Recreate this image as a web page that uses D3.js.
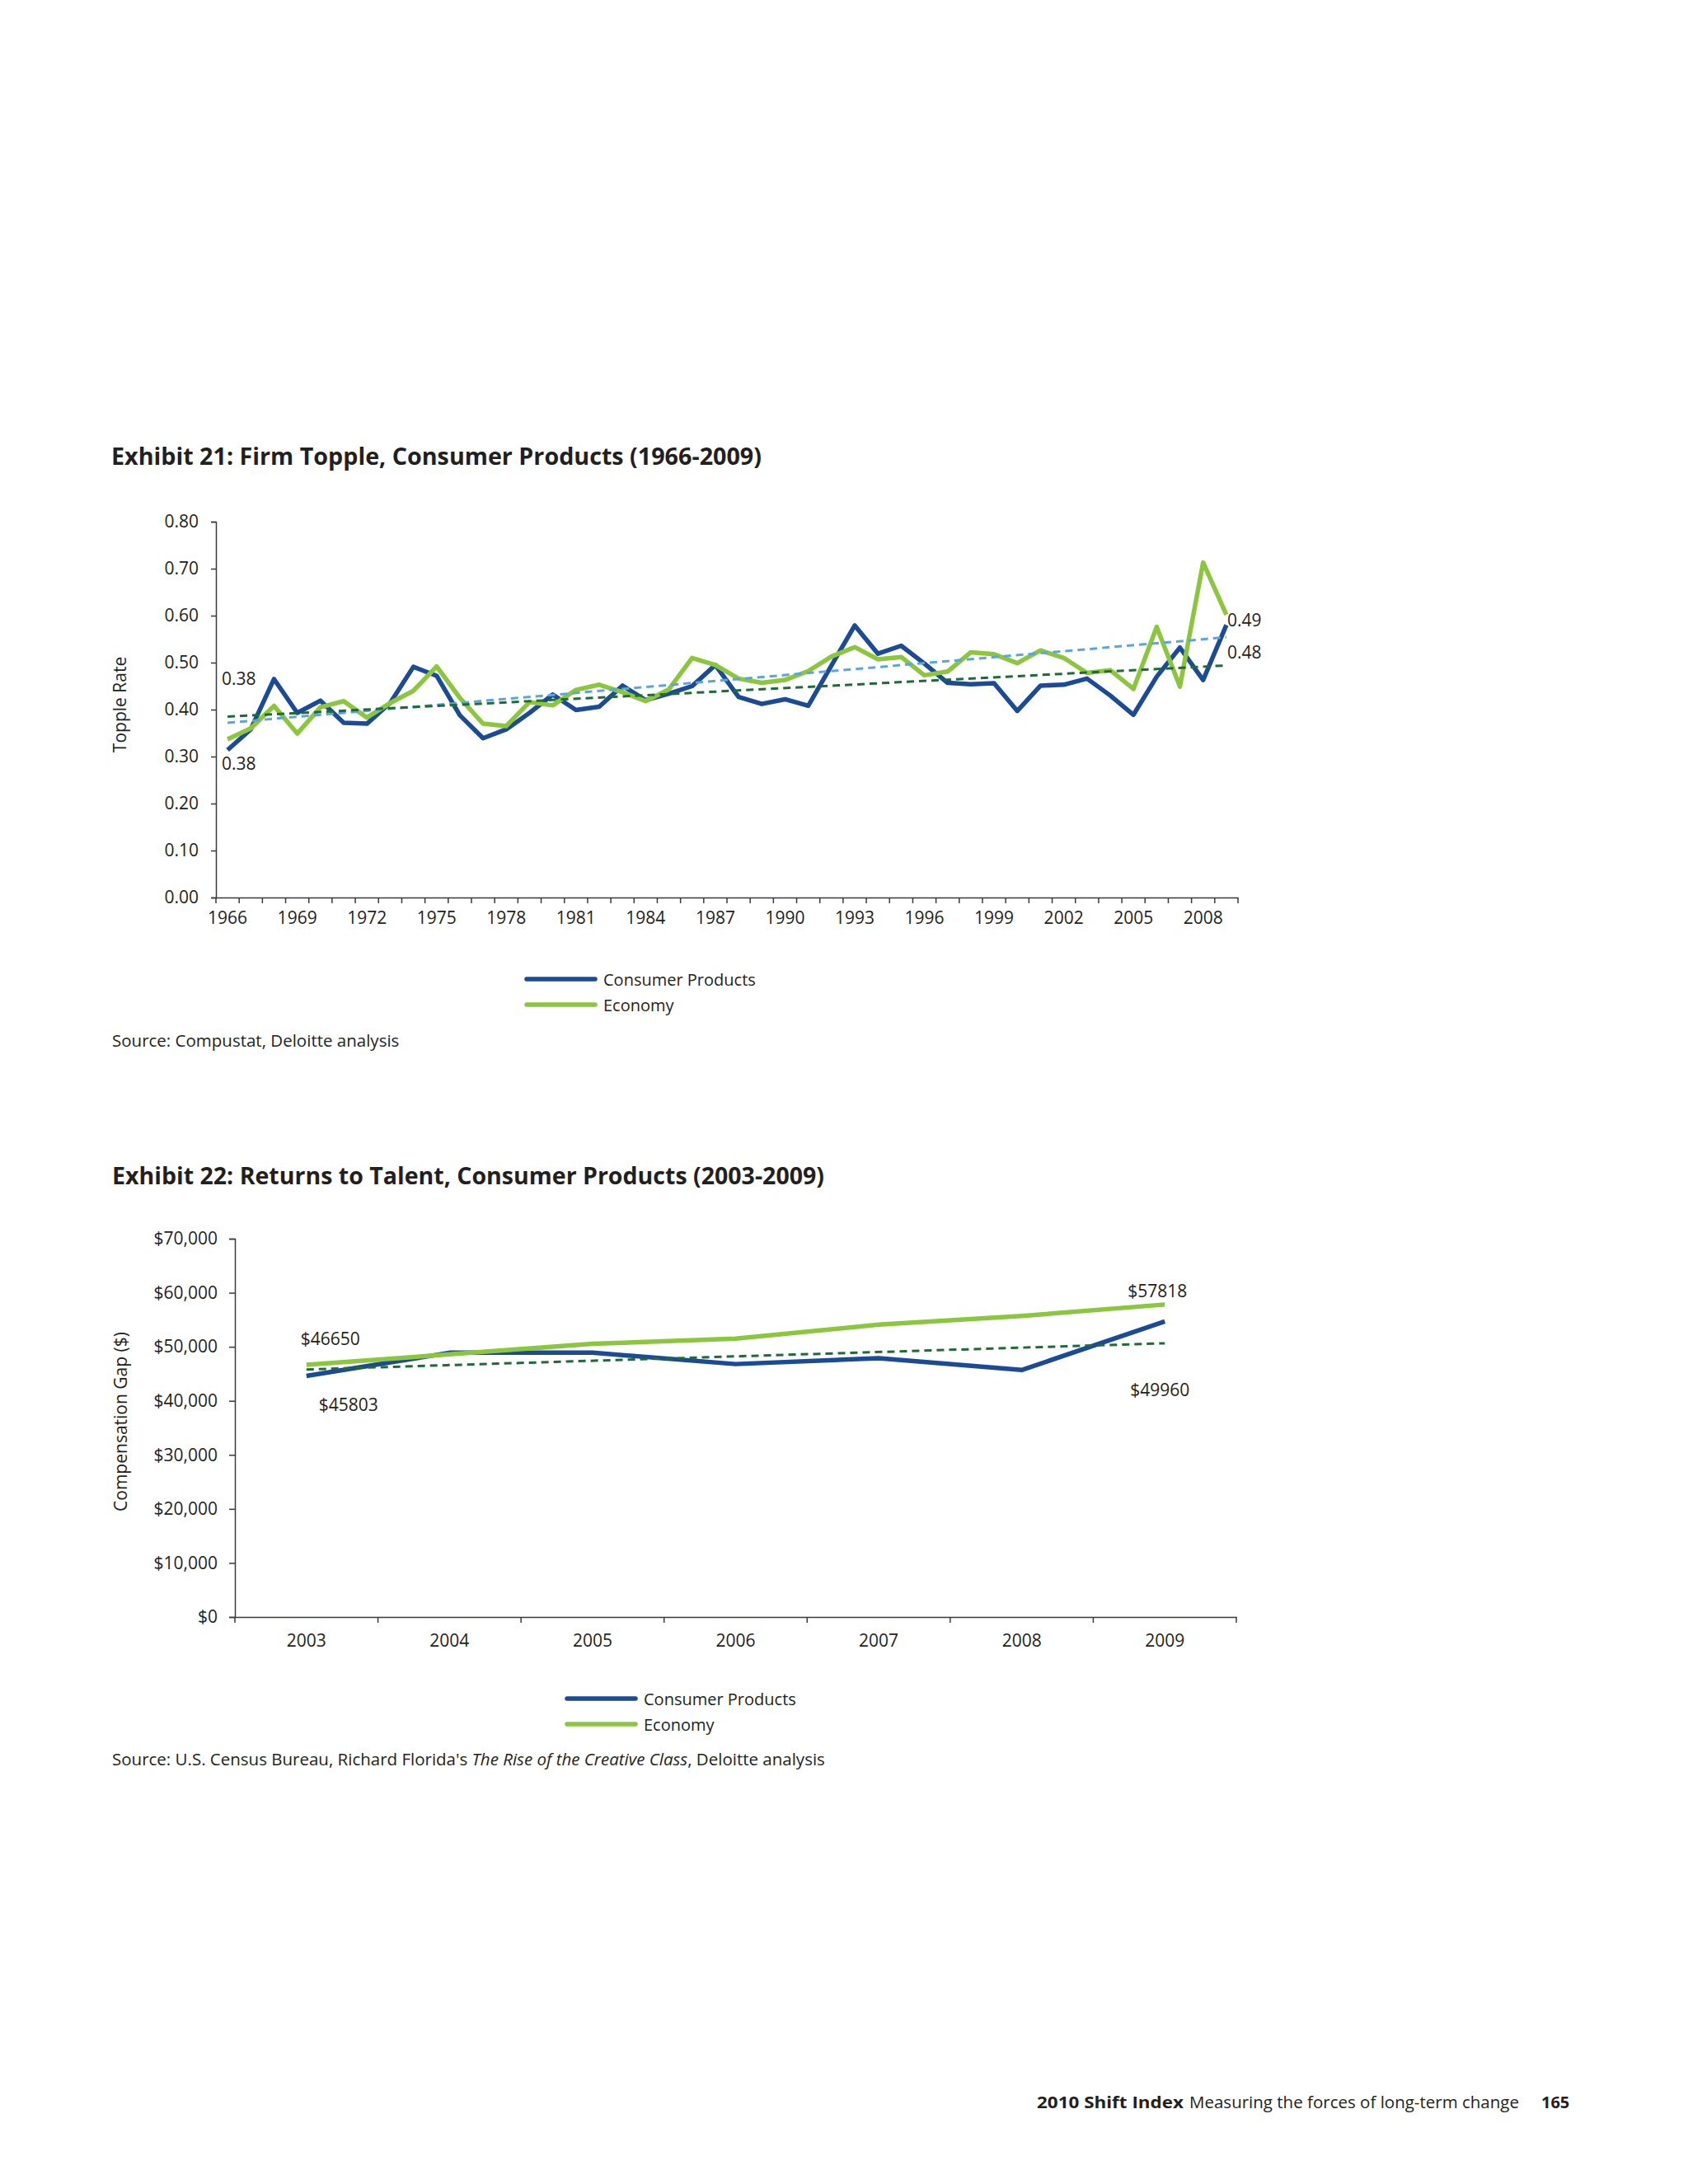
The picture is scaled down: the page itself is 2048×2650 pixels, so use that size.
<!DOCTYPE html>
<html><head><meta charset="utf-8">
<script src="https://cdn.jsdelivr.net/npm/d3@7"></script>
<style>
body{margin:0;background:#fff}
svg{display:block}
text{font-family:"Open Sans",sans-serif;fill:#231f20}
</style>
</head><body>
<svg id="c" width="2048" height="2650"></svg>
<script>
// ---------------- DATA: Exhibit 21 ----------------
const years1 = [1966,1967,1968,1969,1970,1971,1972,1973,1974,1975,1976,1977,1978,1979,1980,1981,1982,1983,1984,1985,1986,1987,1988,1989,1990,1991,1992,1993,1994,1995,1996,1997,1998,1999,2000,2001,2002,2003,2004,2005,2006,2007,2008,2009];
const consumerTopple = [0.314,0.358,0.465,0.393,0.419,0.372,0.370,0.414,0.491,0.472,0.388,0.339,0.358,0.393,0.432,0.399,0.406,0.451,0.420,0.434,0.450,0.495,0.427,0.412,0.422,0.408,0.494,0.579,0.519,0.536,0.498,0.457,0.454,0.456,0.397,0.451,0.453,0.466,0.430,0.389,0.470,0.532,0.463,0.580];
const economyTopple = [0.337,0.360,0.408,0.349,0.405,0.418,0.383,0.414,0.440,0.492,0.425,0.370,0.365,0.416,0.409,0.442,0.453,0.437,0.418,0.443,0.510,0.495,0.466,0.457,0.463,0.482,0.513,0.533,0.507,0.512,0.473,0.481,0.522,0.518,0.499,0.526,0.510,0.478,0.484,0.444,0.576,0.449,0.713,0.602];
const trendTopple1 = [0.372, 0.554];   // first / last year
const trendTopple2 = [0.385, 0.494];
const toppleTicks = [0,0.1,0.2,0.3,0.4,0.5,0.6,0.7,0.8];
const toppleLabelYears = [1966,1969,1972,1975,1978,1981,1984,1987,1990,1993,1996,1999,2002,2005,2008];
const toppleNotes = [
  {text:"0.38", year:1966, v:0.467},
  {text:"0.38", year:1966, v:0.286},
  {text:"0.49", year:2009, v:0.592},
  {text:"0.48", year:2009, v:0.522}
];

// ---------------- DATA: Exhibit 22 ----------------
const years2 = [2003,2004,2005,2006,2007,2008,2009];
const consumerGap = [44600,48900,48900,46800,47900,45700,54700];
const economyGap = [46650,48600,50550,51500,54100,55700,57818];
const trendGap = [45803, 50650];
const gapTicks = [0,10000,20000,30000,40000,50000,60000,70000];
const gapNotes = [
  {text:"$46650", year:2003, v:51600, dx:-7},
  {text:"$45803", year:2003, v:39400, dx:15},
  {text:"$57818", year:2009, v:60460, dx:-45},
  {text:"$49960", year:2009, v:42140, dx:-42}
];

const seriesNames = ["Consumer Products","Economy"];

// ---------------- STYLE ----------------
const BLUE="#1a4b94", GREEN="#8cc63f", LBLUE="#5aa6dc", DGREEN="#1f6b36", AXIS="#3a3a3a";
const FS=21;

const svg = d3.select("#c");

function styleAxis(g){
  g.attr("font-family",'"Open Sans",sans-serif').attr("font-size",FS);
  g.selectAll("path,line").attr("stroke",AXIS).attr("stroke-width",1.5);
  g.selectAll("text").attr("fill","#231f20");
}

// ============ Exhibit 21 ============
svg.append("text").attr("x",135).attr("y",564).attr("font-size",29).attr("font-weight",700)
  .attr("textLength",789).attr("lengthAdjust","spacingAndGlyphs")
  .text("Exhibit 21: Firm Topple, Consumer Products (1966-2009)");

const x1 = d3.scaleBand().domain(years1).range([262,1502]).padding(0);
const y1 = d3.scaleLinear().domain([0,0.8]).range([1089,633]);
const c1 = d => x1(d)+x1.bandwidth()/2;

const ya1 = svg.append("g").attr("transform","translate(262,0)")
  .call(d3.axisLeft(y1).tickValues(toppleTicks).tickFormat(d3.format(".2f")).tickSize(6).tickPadding(15));
styleAxis(ya1);

const xa1 = svg.append("g").attr("transform","translate(0,1089)")
  .call(d3.axisBottom(x1).tickValues(toppleLabelYears).tickSize(0).tickPadding(17));
styleAxis(xa1);
xa1.selectAll(".bound").data(years1.map(d=>x1(d)).concat([x1.range()[1]]))
  .enter().append("line").attr("class","bound")
  .attr("x1",d=>d).attr("x2",d=>d).attr("y1",0).attr("y2",7)
  .attr("stroke",AXIS).attr("stroke-width",1.5);

svg.append("text").attr("transform","translate(153,855) rotate(-90)")
  .attr("text-anchor","middle").attr("font-size",FS).text("Topple Rate");

const line1 = d3.line().x((d,i)=>c1(years1[i])).y(d=>y1(d));
svg.append("path").attr("d",line1(consumerTopple)).attr("fill","none")
  .attr("stroke",BLUE).attr("stroke-width",5.5).attr("stroke-linejoin","round");
svg.append("path").attr("d",line1(economyTopple)).attr("fill","none")
  .attr("stroke",GREEN).attr("stroke-width",5.5).attr("stroke-linejoin","round");

const tEnds1 = [years1[0], years1[years1.length-1]];
const tline1 = d3.line().x((d,i)=>c1(tEnds1[i])).y(d=>y1(d));
svg.append("path").attr("d",tline1(trendTopple1)).attr("fill","none")
  .attr("stroke",LBLUE).attr("stroke-width",3).attr("stroke-dasharray","9,6");
svg.append("path").attr("d",tline1(trendTopple2)).attr("fill","none")
  .attr("stroke",DGREEN).attr("stroke-width",3).attr("stroke-dasharray","9,6");

svg.selectAll(".n1").data(toppleNotes).enter().append("text").attr("class","n1")
  .attr("x",d=>c1(d.year)+(d.year===1966?-7:1)).attr("y",d=>y1(d.v))
  .attr("dominant-baseline","central").attr("font-size",FS).text(d=>d.text);

// legend 1
const leg1 = svg.append("g");
[[BLUE,1188,1196],[GREEN,1219,1227]].forEach((r,i)=>{
  leg1.append("line").attr("x1",639).attr("x2",722).attr("y1",r[1]).attr("y2",r[1])
    .attr("stroke",r[0]).attr("stroke-width",5.5).attr("stroke-linecap","round");
  leg1.append("text").attr("x",732).attr("y",r[2]).attr("font-size",20).text(seriesNames[i]);
});

svg.append("text").attr("x",136).attr("y",1270).attr("font-size",20.5)
  .text("Source: Compustat, Deloitte analysis");

// ============ Exhibit 22 ============
svg.append("text").attr("x",136).attr("y",1437).attr("font-size",29).attr("font-weight",700)
  .attr("textLength",864).attr("lengthAdjust","spacingAndGlyphs")
  .text("Exhibit 22: Returns to Talent, Consumer Products (2003-2009)");

const x2 = d3.scaleBand().domain(years2).range([285,1500]).padding(0);
const y2 = d3.scaleLinear().domain([0,70000]).range([1962,1503]);
const c2 = d => x2(d)+x2.bandwidth()/2;

const ya2 = svg.append("g").attr("transform","translate(285,0)")
  .call(d3.axisLeft(y2).tickValues(gapTicks).tickFormat(d3.format("$,")).tickSize(7).tickPadding(14));
styleAxis(ya2);

const xa2 = svg.append("g").attr("transform","translate(0,1962)")
  .call(d3.axisBottom(x2).tickSize(0).tickPadding(21));
styleAxis(xa2);
xa2.selectAll(".bound").data(years2.map(d=>x2(d)).concat([x2.range()[1]]))
  .enter().append("line").attr("class","bound")
  .attr("x1",d=>d).attr("x2",d=>d).attr("y1",0).attr("y2",7)
  .attr("stroke",AXIS).attr("stroke-width",1.5);

svg.append("text").attr("transform","translate(154,1725) rotate(-90)")
  .attr("text-anchor","middle").attr("font-size",FS).text("Compensation Gap ($)");

const line2 = d3.line().x((d,i)=>c2(years2[i])).y(d=>y2(d));
svg.append("path").attr("d",line2(consumerGap)).attr("fill","none")
  .attr("stroke",BLUE).attr("stroke-width",5.5).attr("stroke-linejoin","round");
svg.append("path").attr("d",line2(economyGap)).attr("fill","none")
  .attr("stroke",GREEN).attr("stroke-width",5.5).attr("stroke-linejoin","round");

const tEnds2 = [years2[0], years2[years2.length-1]];
const tline2 = d3.line().x((d,i)=>c2(tEnds2[i])).y(d=>y2(d));
svg.append("path").attr("d",tline2(trendGap)).attr("fill","none")
  .attr("stroke",DGREEN).attr("stroke-width",3).attr("stroke-dasharray","9,6");

svg.selectAll(".n2").data(gapNotes).enter().append("text").attr("class","n2")
  .attr("x",d=>c2(d.year)+d.dx).attr("y",d=>y2(d.v))
  .attr("dominant-baseline","central").attr("font-size",FS).text(d=>d.text);

// legend 2
const leg2 = svg.append("g");
[[BLUE,2061,2069],[GREEN,2092,2100]].forEach((r,i)=>{
  leg2.append("line").attr("x1",688).attr("x2",771).attr("y1",r[1]).attr("y2",r[1])
    .attr("stroke",r[0]).attr("stroke-width",5.5).attr("stroke-linecap","round");
  leg2.append("text").attr("x",781).attr("y",r[2]).attr("font-size",20).text(seriesNames[i]);
});

const src2 = svg.append("text").attr("x",136).attr("y",2142).attr("font-size",20.5);
src2.append("tspan").text("Source: U.S. Census Bureau, Richard Florida's ");
src2.append("tspan").attr("font-style","italic").text("The Rise of the Creative Class");
src2.append("tspan").text(", Deloitte analysis");

// footer
svg.append("text").attr("x",1258).attr("y",2558).attr("font-size",20).attr("font-weight",700)
  .attr("textLength",178).attr("lengthAdjust","spacingAndGlyphs").text("2010 Shift Index");
svg.append("text").attr("x",1443).attr("y",2558).attr("font-size",20)
  .attr("textLength",400).attr("lengthAdjust","spacingAndGlyphs").text("Measuring the forces of long-term change");
svg.append("text").attr("x",1870).attr("y",2558).attr("font-size",20).attr("font-weight",700)
  .text("165");
</script>
</body></html>
